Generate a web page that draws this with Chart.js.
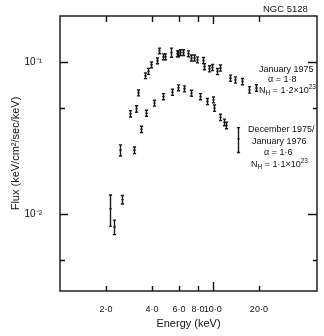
<!DOCTYPE html>
<html>
<head>
<meta charset="utf-8">
<script src="https://cdn.jsdelivr.net/npm/chart.js@4/dist/chart.umd.min.js"></script>
<style>
body{margin:0;background:#fff;}
#wrap{position:relative;width:324px;height:336px;}
.lbl{position:absolute;font-family:"Liberation Sans",Arial,sans-serif;font-size:9px;color:#111;white-space:nowrap;line-height:1;}
.lbl sup{font-size:6.5px;vertical-align:4px;}
.lbl sub{font-size:6.5px;vertical-align:-2px;}
</style>
</head>
<body>
<div id="wrap">
<canvas id="c" width="324" height="336"></canvas>
<div class="lbl" style="left:263px;top:4px;font-size:9.5px">NGC 5128</div>
<div class="lbl" style="left:259px;top:65px">January 1975</div>
<div class="lbl" style="left:268px;top:75px">α = 1·8</div>
<div class="lbl" style="left:259px;top:84px">N<sub>H</sub> = 1·2×10<sup>23</sup></div>
<div class="lbl" style="left:248px;top:125px">December 1975/</div>
<div class="lbl" style="left:252px;top:137px">January 1976</div>
<div class="lbl" style="left:264px;top:148px">α = 1·6</div>
<div class="lbl" style="left:251px;top:158px">N<sub>H</sub> = 1·1×10<sup>23</sup></div>
</div>
<script>
// January 1975 spectrum (keV, keV/cm2/sec/keV)
const energy1975=[2.13,2.48,2.87,3.14,3.22,3.59,3.79,3.93,4.32,4.42,4.69,4.86,5.29,5.79,5.93,6.11,6.39,6.83,7.21,7.51,7.89,8.56,8.74,9.46,9.80,10.67,11.2,12.9,13.9,15.4,17.3,19.2];
const flux1975=[0.0108,0.0262,0.0455,0.049,0.0625,0.081,0.0866,0.0955,0.1015,0.118,0.108,0.108,0.115,0.113,0.113,0.115,0.115,0.113,0.106,0.106,0.103,0.102,0.093,0.090,0.0917,0.0863,0.091,0.078,0.076,0.0742,0.0654,0.0673];
const err1975=[0.0025,0.0022,0.0022,0.0024,0.0028,0.0035,0.0039,0.0042,0.0045,0.005,0.0048,0.0048,0.008,0.005,0.005,0.005,0.005,0.005,0.0048,0.0048,0.0047,0.0047,0.0043,0.0042,0.0042,0.004,0.0042,0.0037,0.0036,0.0035,0.0032,0.0033];
// December 1975 / January 1976 spectrum
const energy1976=[2.25,2.53,3.03,3.37,3.66,4.11,4.69,5.37,5.95,6.49,7.18,8.22,9.20,9.95,10.2,11.2,11.8,12.2,14.6];
const flux1976=[0.0082,0.0124,0.0262,0.036,0.0459,0.0535,0.059,0.063,0.0675,0.0664,0.0622,0.059,0.0548,0.0562,0.0496,0.0431,0.040,0.0382,0.0311];
const err1976=[0.0009,0.0008,0.0013,0.0017,0.0021,0.0024,0.0027,0.0029,0.003,0.003,0.0028,0.0027,0.0025,0.0025,0.0024,0.0021,0.002,0.0019,0.0058];
// axis ticks
const xTickValues=[2,4,6,8,10,20];
const xTickLabels=['2·0','4·0','6·0','8·0','10·0','20·0'];
const yTickValues=[0.005,0.01,0.05,0.1];
const yTickLabels=['','10⁻²','','10⁻¹'];

function pts(e,f,er){return e.map((v,i)=>({x:v,y:f[i],err:er[i]}));}

const errorBars={id:'errorBars',afterDatasetsDraw(chart){
  const ctx=chart.ctx,xs=chart.scales.x,ys=chart.scales.y;
  ctx.save();ctx.strokeStyle='#1a1a1a';ctx.lineWidth=1.4;
  chart.data.datasets.forEach(ds=>{
    ds.data.forEach(p=>{
      const x=Math.round(xs.getPixelForValue(p.x))+0.5;
      const y0=ys.getPixelForValue(p.y-p.err),y1=ys.getPixelForValue(p.y+p.err),yc=ys.getPixelForValue(p.y);
      ctx.beginPath();
      ctx.moveTo(x,y0);ctx.lineTo(x,y1);
      ctx.moveTo(x-1.6,y0);ctx.lineTo(x+1.6,y0);
      ctx.moveTo(x-1.6,y1);ctx.lineTo(x+1.6,y1);
      ctx.moveTo(x-1.2,yc);ctx.lineTo(x+1.2,yc);
      ctx.stroke();
    });
  });
  ctx.restore();
}};

const frame={id:'frame',afterDraw(chart){
  const ctx=chart.ctx,a=chart.chartArea,xs=chart.scales.x,ys=chart.scales.y;
  ctx.save();ctx.strokeStyle='#111';ctx.lineWidth=1.4;
  ctx.strokeRect(a.left,a.top,a.right-a.left,a.bottom-a.top);
  ctx.beginPath();
  xTickValues.forEach(v=>{
    const x=Math.round(xs.getPixelForValue(v))+0.5;
    const len=v===10?9:5;
    ctx.moveTo(x,a.bottom);ctx.lineTo(x,a.bottom-len);
    ctx.moveTo(x,a.top);ctx.lineTo(x,a.top+(v===10?8:6));
  });
  yTickValues.forEach((v,i)=>{
    const y=Math.round(ys.getPixelForValue(v))+0.5;
    const major=yTickLabels[i]!=='';
    ctx.moveTo(a.left,y);ctx.lineTo(a.left+(major?8:5),y);
    ctx.moveTo(a.right,y);ctx.lineTo(a.right-(major?9:4),y);
  });
  ctx.stroke();ctx.restore();
}};

new Chart(document.getElementById('c'),{
  type:'scatter',
  data:{datasets:[
    {label:'January 1975',data:pts(energy1975,flux1975,err1975),pointRadius:0},
    {label:'December 1975/January 1976',data:pts(energy1976,flux1976,err1976),pointRadius:0}
  ]},
  options:{
    responsive:false,animation:false,
    layout:{padding:{left:0,right:7,top:16,bottom:0}},
    plugins:{legend:{display:false},tooltip:{enabled:false}},
    scales:{
      x:{type:'logarithmic',min:1,max:48,
        grid:{display:false},border:{display:false},
        afterBuildTicks:s=>{s.ticks=xTickValues.map(v=>({value:v}));},
        afterFit:s=>{s.height=45;},
        ticks:{autoSkip:false,maxRotation:0,padding:5,color:'#111',font:{family:'"Liberation Sans", Arial, sans-serif',size:9},
          callback:(v,i)=>xTickLabels[i]},
        title:{display:true,text:'Energy (keV)',color:'#111',padding:{top:0,bottom:5},font:{family:'"Liberation Sans", Arial, sans-serif',size:11}}
      },
      y:{type:'logarithmic',min:0.00311,max:0.2,
        grid:{display:false},border:{display:false},
        afterBuildTicks:s=>{s.ticks=yTickValues.map(v=>({value:v}));},
        afterFit:s=>{s.width=60;},
        ticks:{autoSkip:false,padding:10,color:'#111',font:{family:'"Liberation Sans", Arial, sans-serif',size:10},
          callback:(v,i)=>yTickLabels[i]},
        title:{display:true,text:'Flux (keV/cm²/sec/keV)',color:'#111',padding:{top:9,bottom:0},font:{family:'"Liberation Sans", Arial, sans-serif',size:11}}
      }
    }
  },
  plugins:[errorBars,frame]
});
</script>
</body>
</html>
